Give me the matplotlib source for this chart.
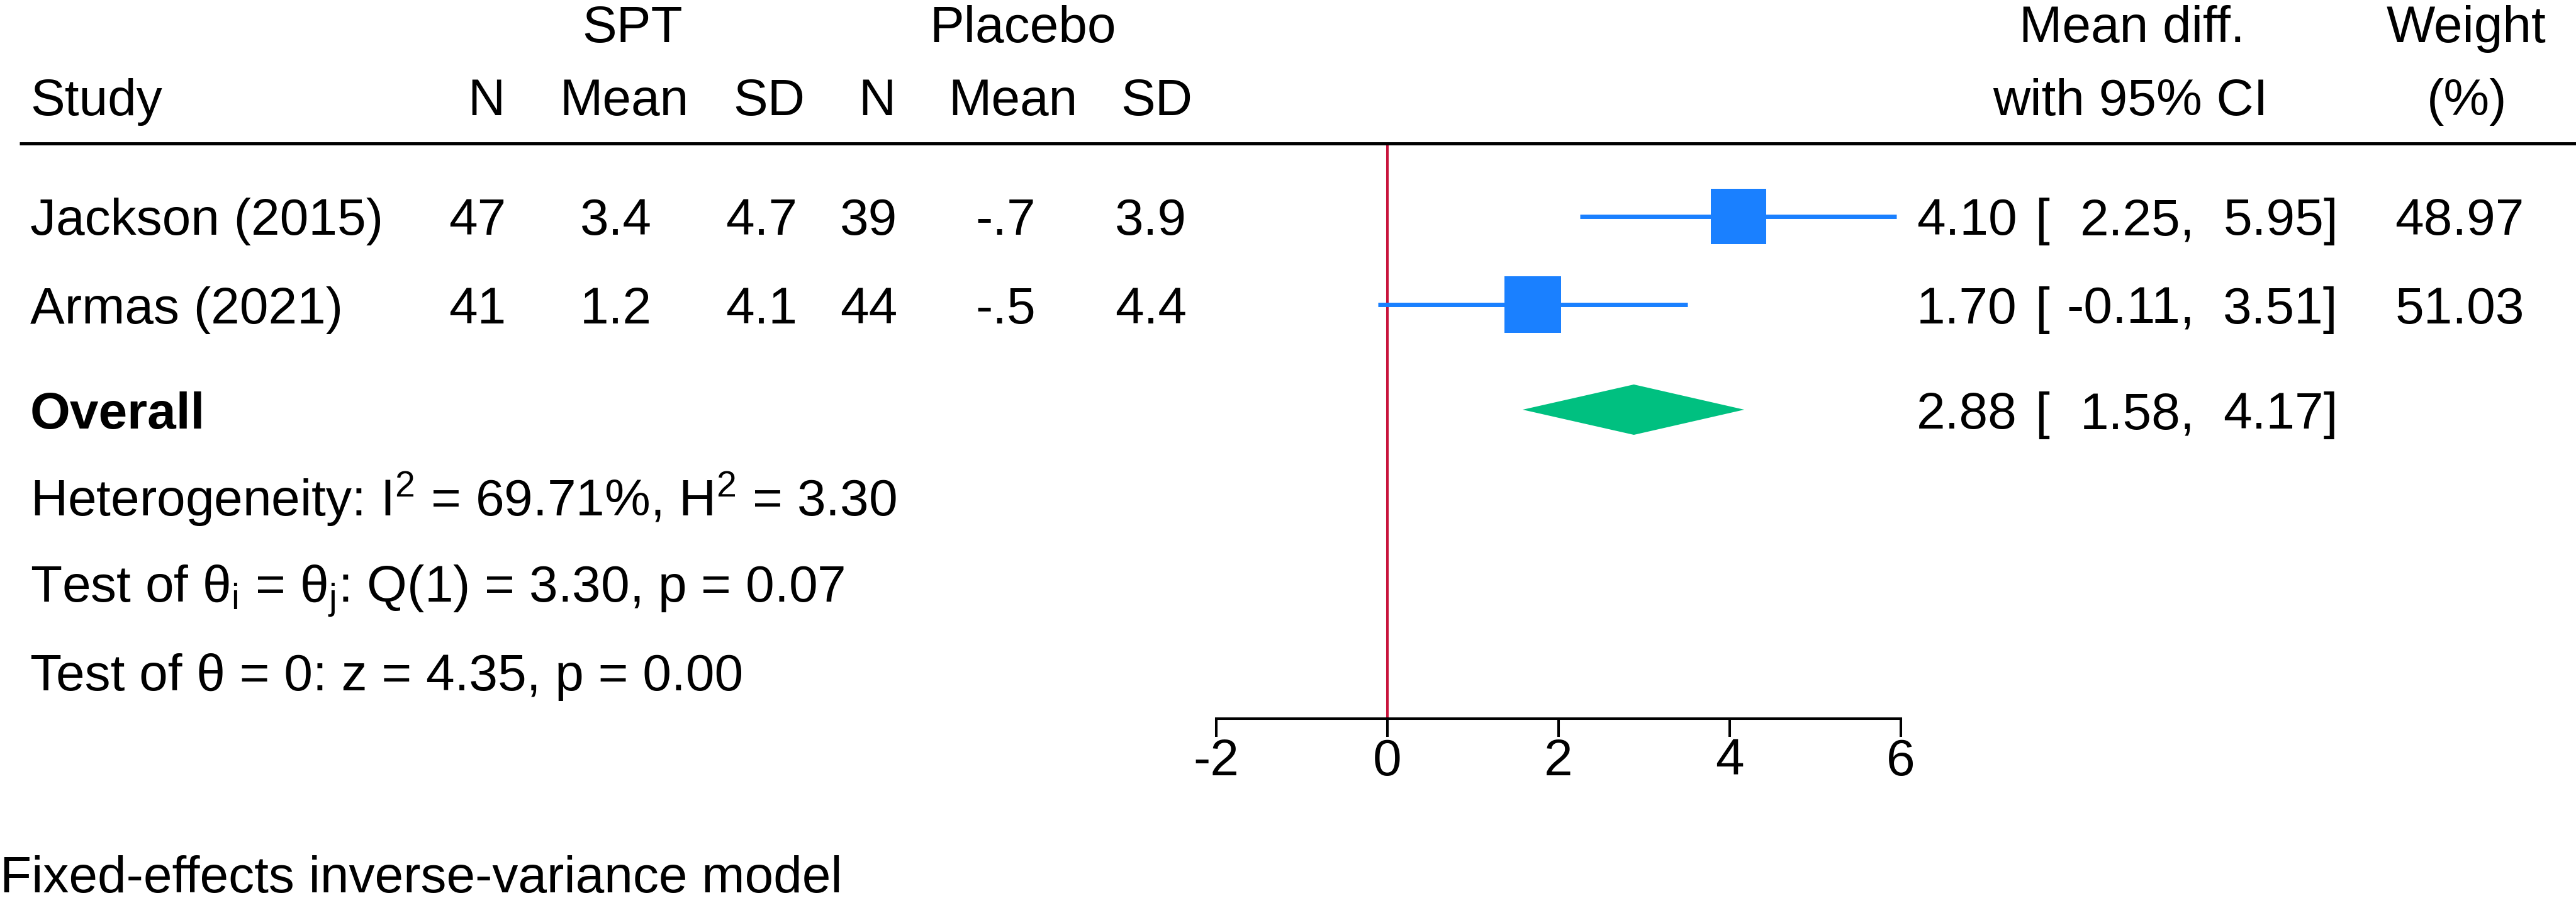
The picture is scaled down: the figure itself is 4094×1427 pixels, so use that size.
import numpy as np
import matplotlib.pyplot as plt

plt.rcParams['font.family'] = ['Liberation Sans', 'DejaVu Sans']
plt.rcParams['mathtext.fontset'] = 'custom'
plt.rcParams['mathtext.rm'] = 'Liberation Sans'
plt.rcParams['mathtext.it'] = 'Liberation Sans:italic'
plt.rcParams['mathtext.bf'] = 'Liberation Sans:bold'

# --- data ---
studies = ["Jackson (2015)", "Armas (2021)"]
spt_n = [47, 41]
spt_mean = [3.4, 1.2]
spt_sd = [4.7, 4.1]
pla_n = [39, 44]
pla_mean = [-0.7, -0.5]
pla_sd = [3.9, 4.4]

effect = [4.10, 1.70]
ci_low = [2.25, -0.11]
ci_high = [5.95, 3.51]
weight = [48.97, 51.03]

overall_effect = 2.88
overall_low = 1.58
overall_high = 4.17

het_text = r"Heterogeneity: I$^{\mathrm{2}}$ = 69.71%, H$^{\mathrm{2}}$ = 3.30"
qtest_text = r"Test of θ$_{\mathrm{i}}$ = θ$_{\mathrm{j}}$: Q(1) = 3.30, p = 0.07"
ztest_text = "Test of θ = 0: z = 4.35, p = 0.00"
model_text = "Fixed-effects inverse-variance model"

x_ticks = [-2, 0, 2, 4, 6]

# --- layout (pixels) ---
W, H = 4094, 1427
zero_px, unit_px = 2205, 136.0
FS = 59
blue = "#1a80ff"
green = "#00c080"
red = "#c8143c"


def px(x):
    return (x - zero_px) / unit_px


def stata_fmt(v):
    s = f"{v:.1f}"
    return s.replace("-0.", "-.")


fig = plt.figure(figsize=(W / 100, H / 100), dpi=100)
ax = fig.add_axes([0, 0, 1, 1])
ax.set_xlim(px(0), px(W))
ax.set_ylim(H, 0)
ax.axis("off")

# --- header ---
ax.text(px(1005), 67, "SPT", fontsize=FS, ha="center", va="baseline")
ax.text(px(1625), 67, "Placebo", fontsize=FS, ha="center", va="baseline")
ax.text(px(3388), 67, "Mean diff.", fontsize=FS, ha="center", va="baseline")
ax.text(px(3920), 67, "Weight", fontsize=FS, ha="center", va="baseline")

ax.text(px(48), 183, "Study", fontsize=FS, ha="left", va="baseline")
head_cols = [("N", 773), ("Mean", 992), ("SD", 1222),
             ("N", 1394), ("Mean", 1610), ("SD", 1838)]
for lab, xc in head_cols:
    ax.text(px(xc), 183, lab, fontsize=FS, ha="center", va="baseline")
ax.text(px(3386), 183, "with 95% CI", fontsize=FS, ha="center", va="baseline")
ax.text(px(3921), 183, "(%)", fontsize=FS, ha="center", va="baseline")

ax.hlines(228, px(31), px(W), color="black", lw=3.6)

# --- study rows ---
row_base = [373, 514]
row_mid = [344, 484]
val_cols = [759, 979, 1210, 1381, 1598, 1829]
side_k = 12.6  # px per sqrt(weight)

for i, name in enumerate(studies):
    yb = row_base[i]
    ax.text(px(48), yb, name, fontsize=FS, ha="left", va="baseline")
    vals = [str(spt_n[i]), stata_fmt(spt_mean[i]), stata_fmt(spt_sd[i]),
            str(pla_n[i]), stata_fmt(pla_mean[i]), stata_fmt(pla_sd[i])]
    for v, xc in zip(vals, val_cols):
        ax.text(px(xc), yb, v, fontsize=FS, ha="center", va="baseline")

    ym = row_mid[i]
    ax.hlines(ym, ci_low[i], ci_high[i], color=blue, lw=5, zorder=2)
    side_pt = side_k * np.sqrt(weight[i]) * 0.72
    ax.scatter([effect[i]], [ym], marker="s", s=side_pt ** 2,
               color=blue, linewidths=0, zorder=3)

    ax.text(px(3206), yb, f"{effect[i]:.2f}", fontsize=FS, ha="right", va="baseline")
    ax.text(px(3234), yb, "[", fontsize=FS, ha="left", va="baseline")
    ax.text(px(3488), yb, f"{ci_low[i]:.2f},", fontsize=FS, ha="right", va="baseline")
    ax.text(px(3716), yb, f"{ci_high[i]:.2f}]", fontsize=FS, ha="right", va="baseline")
    ax.text(px(4012), yb, f"{weight[i]:.2f}", fontsize=FS, ha="right", va="baseline")

# --- overall ---
yb, ym, hh = 681, 651, 40
ax.text(px(48), yb, "Overall", fontsize=FS, fontweight="bold", ha="left", va="baseline")
ax.fill([overall_low, overall_effect, overall_high, overall_effect],
        [ym, ym - hh, ym, ym + hh], color=green, lw=0, zorder=3)
ax.text(px(3206), yb, f"{overall_effect:.2f}", fontsize=FS, ha="right", va="baseline")
ax.text(px(3234), yb, "[", fontsize=FS, ha="left", va="baseline")
ax.text(px(3488), yb, f"{overall_low:.2f},", fontsize=FS, ha="right", va="baseline")
ax.text(px(3716), yb, f"{overall_high:.2f}]", fontsize=FS, ha="right", va="baseline")

# --- stats text ---
ax.text(px(48), 820, het_text, fontsize=FS, ha="left", va="baseline")
ax.text(px(48), 957, qtest_text, fontsize=FS, ha="left", va="baseline")
ax.text(px(48), 1097, ztest_text, fontsize=FS, ha="left", va="baseline")
ax.text(px(0), 1418, model_text, fontsize=FS, ha="left", va="baseline")

# --- no-effect line ---
axis_y = 1142
ax.vlines(0, 228, axis_y, color=red, lw=2.9, zorder=1)

# --- x axis ---
ax2 = fig.add_axes([0, 1 - axis_y / H, 1, 0.02])
ax2.set_xlim(px(0), px(W))
ax2.patch.set_alpha(0)
for s in ["top", "left", "right"]:
    ax2.spines[s].set_visible(False)
ax2.spines["bottom"].set_bounds(x_ticks[0], x_ticks[-1])
ax2.spines["bottom"].set_linewidth(2.9)
ax2.set_yticks([])
ax2.set_xticks(x_ticks)
ax2.set_xticklabels([str(t) for t in x_ticks])
ax2.tick_params(axis="x", length=21, width=2.9, labelsize=FS, pad=1)

fig.savefig("out.png", dpi=100)
plt.close(fig)
